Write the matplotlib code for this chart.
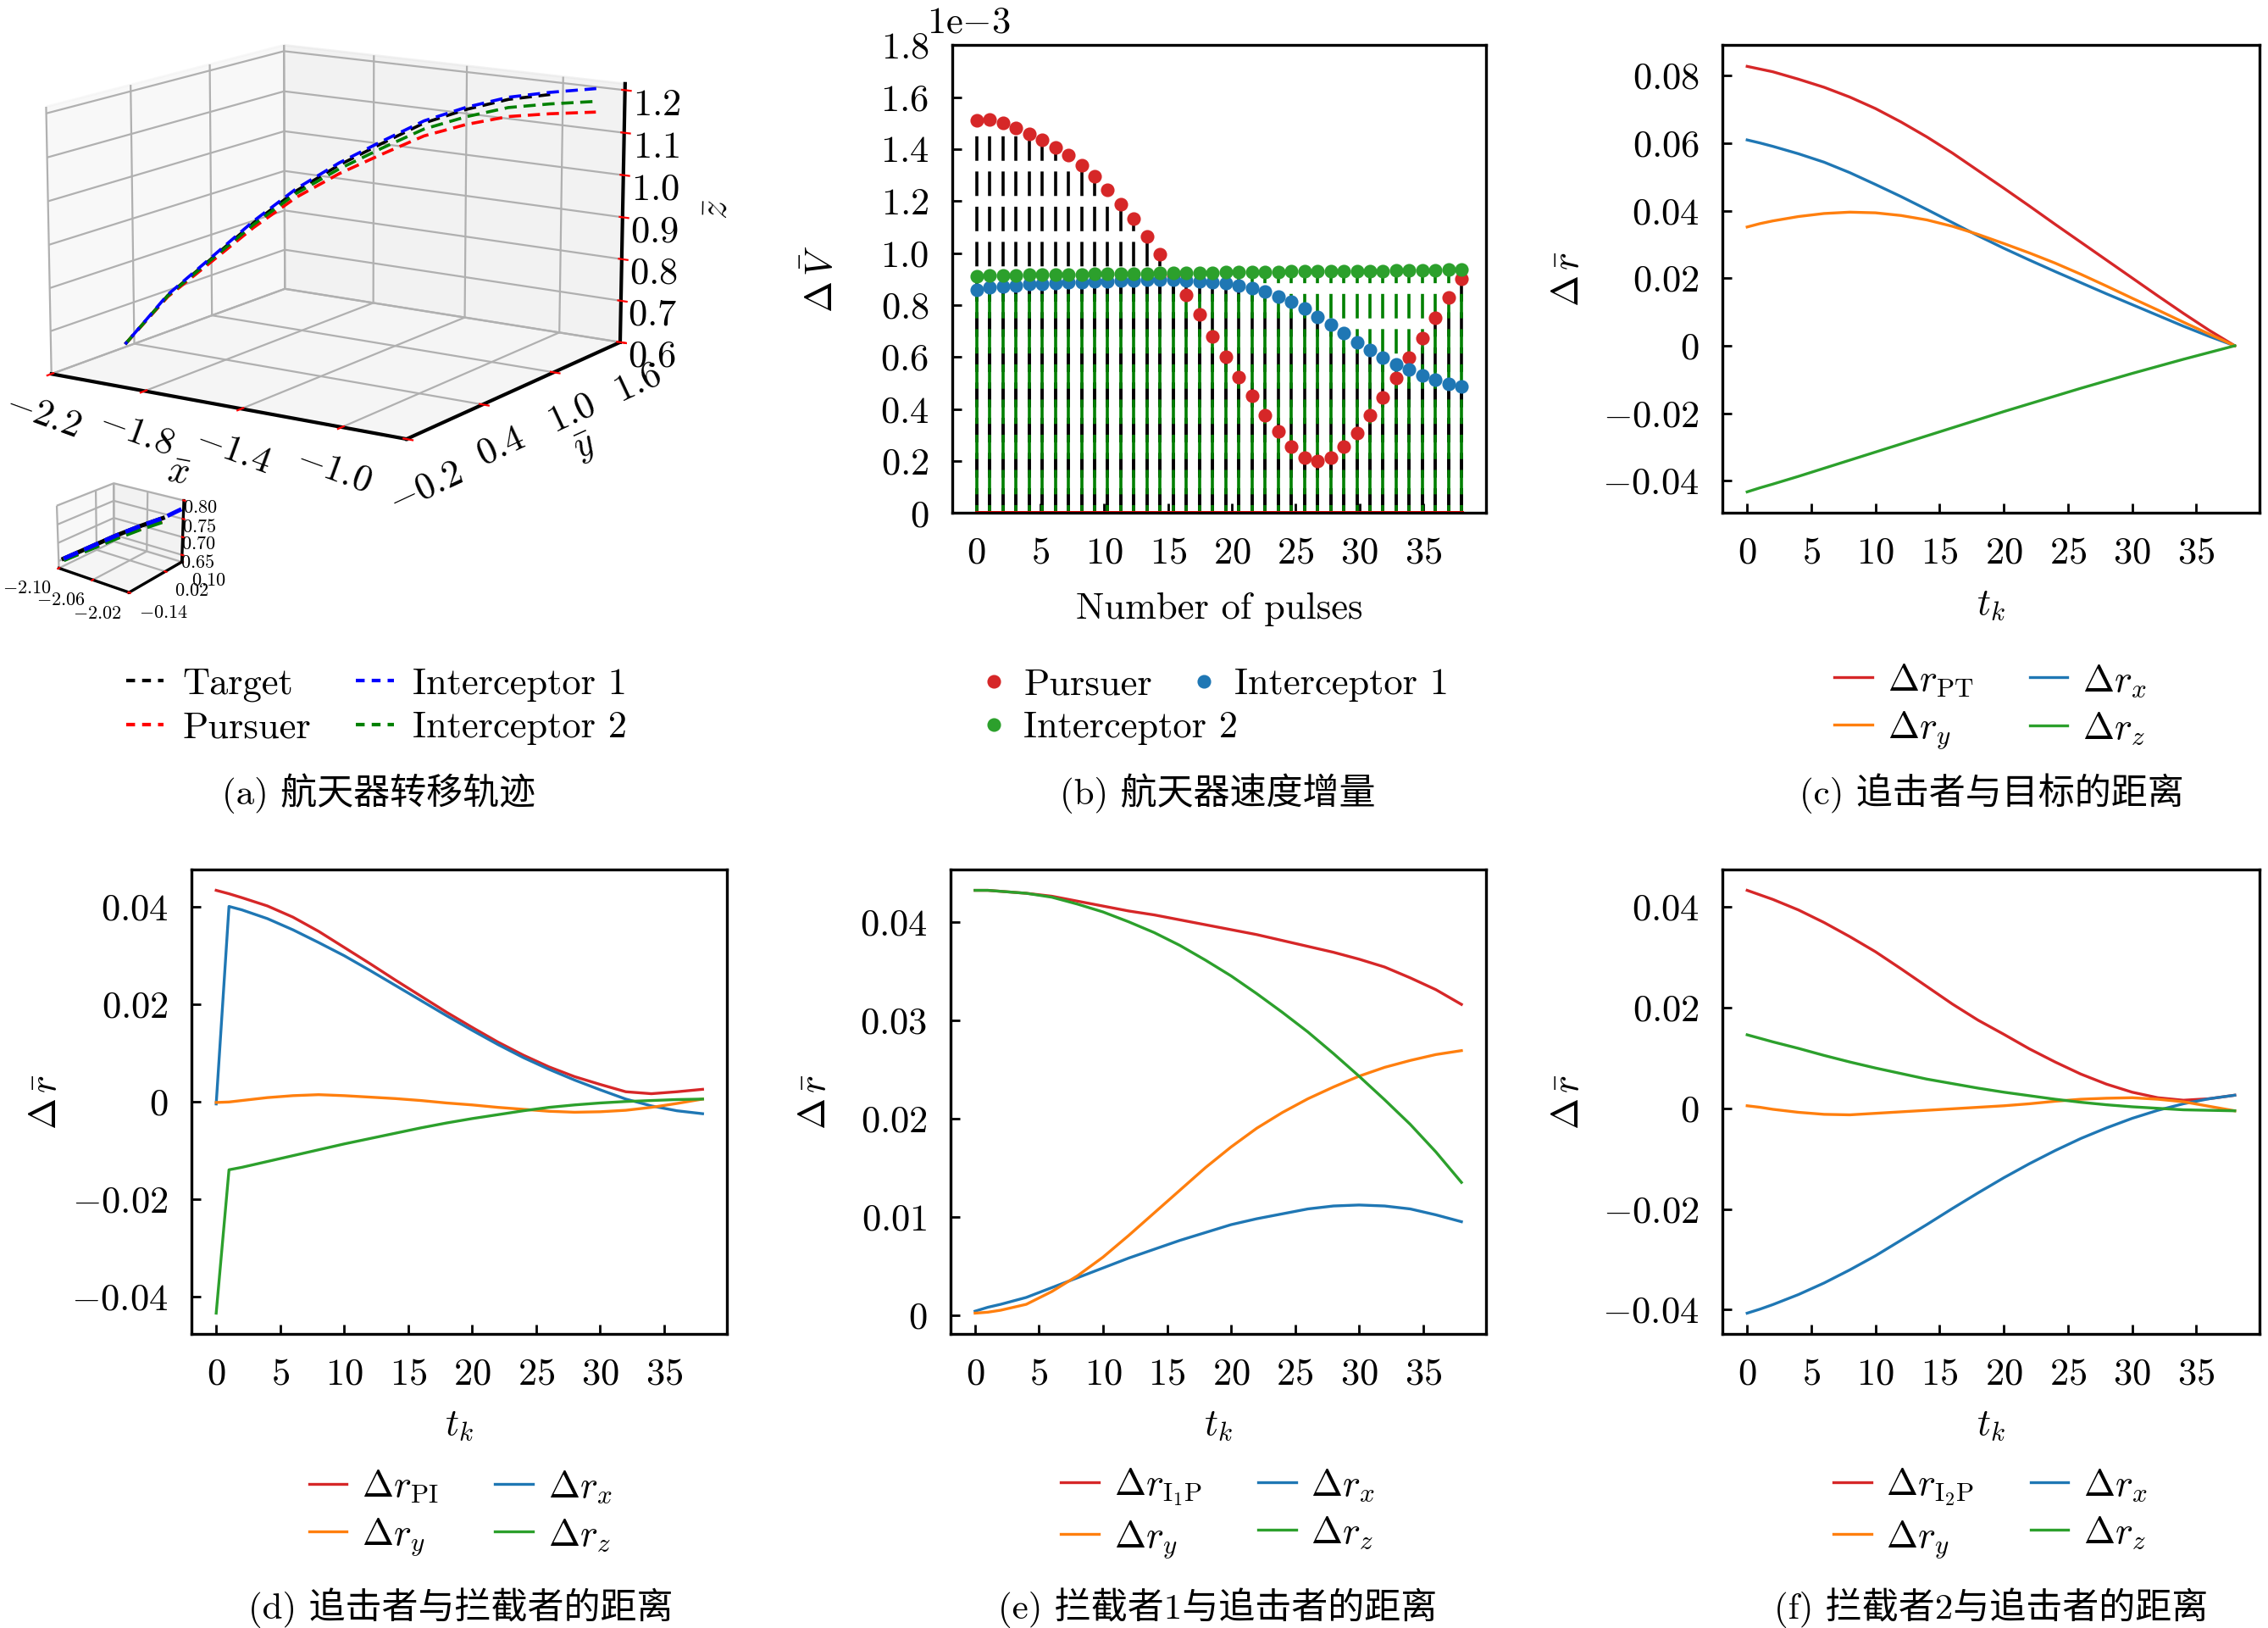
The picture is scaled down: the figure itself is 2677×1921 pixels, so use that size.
import numpy as np
import matplotlib
matplotlib.use("Agg")
import matplotlib.pyplot as plt
from matplotlib.lines import Line2D
from matplotlib.ticker import FuncFormatter

plt.rcParams["font.family"] = ["cmr10", "Noto Sans CJK SC", "DejaVu Sans"]
plt.rcParams["mathtext.fontset"] = "cm"
plt.rcParams["axes.formatter.use_mathtext"] = True

# ---------------- (a) transfer trajectories (x, y, z) ----------------
int1_x = [-2.000, -1.895, -1.789, -1.684, -1.579, -1.473, -1.368, -1.263, -1.158, -1.052, -0.947, -0.830]
int1_y = [0.000, 0.137, 0.274, 0.410, 0.547, 0.684, 0.821, 0.958, 1.094, 1.231, 1.368, 1.520]
int1_z = [0.665, 0.775, 0.855, 0.935, 1.005, 1.060, 1.105, 1.148, 1.175, 1.194, 1.201, 1.205]

target_x = [-2.000, -1.895, -1.789, -1.684, -1.579, -1.473, -1.368, -1.263, -1.158, -1.052, -0.947]
target_y = [0.000, 0.137, 0.274, 0.410, 0.547, 0.684, 0.821, 0.958, 1.094, 1.231, 1.368]
target_z = [0.665, 0.773, 0.852, 0.931, 1.000, 1.055, 1.100, 1.143, 1.170, 1.189, 1.196]

int2_x = int1_x
int2_y = int1_y
int2_z = [0.665, 0.772, 0.850, 0.927, 0.994, 1.046, 1.089, 1.129, 1.153, 1.170, 1.174, 1.175]

pursuer_x = int1_x
pursuer_y = int1_y
pursuer_z = [0.665, 0.770, 0.845, 0.920, 0.985, 1.035, 1.075, 1.113, 1.135, 1.149, 1.151, 1.150]

# zoomed start of the trajectories (inset)
zoom_target = ([-2.100, -2.085, -2.070, -2.055, -2.040], [-0.12, -0.06, 0.00, 0.05, 0.09], [0.650, 0.675, 0.700, 0.722, 0.742])
zoom_pursuer = ([-2.100, -2.085, -2.070, -2.055, -2.040], [-0.12, -0.06, 0.00, 0.05, 0.09], [0.648, 0.671, 0.694, 0.715, 0.734])
zoom_int1 = ([-2.100, -2.085, -2.070, -2.055, -2.040, -2.025], [-0.12, -0.06, 0.00, 0.05, 0.09, 0.12], [0.650, 0.675, 0.700, 0.722, 0.742, 0.770])
zoom_int2 = ([-2.100, -2.085, -2.070, -2.055, -2.040], [-0.12, -0.06, 0.00, 0.05, 0.09], [0.646, 0.669, 0.692, 0.713, 0.732])

# ---------------- (b) velocity increments (x 1e-3) ----------------
pulses = np.linspace(0, 38, 38)
dv_pursuer = [1.510, 1.515, 1.500, 1.481, 1.460, 1.436, 1.405, 1.376, 1.337, 1.294, 1.242, 1.187,
              1.132, 1.063, 0.995, 0.915, 0.840, 0.764, 0.681, 0.602, 0.523, 0.450, 0.375, 0.316,
              0.255, 0.215, 0.200, 0.215, 0.255, 0.309, 0.375, 0.446, 0.521, 0.597, 0.673, 0.752,
              0.828, 0.900]
dv_int1 = [0.860, 0.869, 0.873, 0.875, 0.881, 0.881, 0.884, 0.887, 0.889, 0.891, 0.892, 0.895,
           0.896, 0.897, 0.897, 0.897, 0.895, 0.892, 0.889, 0.884, 0.876, 0.865, 0.852, 0.834,
           0.812, 0.786, 0.756, 0.724, 0.691, 0.658, 0.627, 0.598, 0.572, 0.551, 0.531, 0.513,
           0.498, 0.486]
dv_int2 = [0.912, 0.913, 0.914, 0.915, 0.916, 0.917, 0.918, 0.918, 0.919, 0.920, 0.920, 0.921,
           0.922, 0.922, 0.923, 0.924, 0.924, 0.925, 0.925, 0.926, 0.927, 0.927, 0.928, 0.928,
           0.929, 0.929, 0.930, 0.930, 0.931, 0.931, 0.932, 0.932, 0.933, 0.933, 0.934, 0.935,
           0.936, 0.937]

# ---------------- (c)-(f) relative distances ----------------
t_k = [0, 1, 2, 4, 6, 8, 10, 12, 14, 16, 18, 20, 22, 24, 26, 28, 30, 32, 34, 36, 38]

c_pt = [0.0828, 0.0820, 0.0812, 0.0790, 0.0766, 0.0737, 0.0703, 0.0663, 0.0619, 0.0571, 0.0519,
        0.0467, 0.0414, 0.0360, 0.0307, 0.0254, 0.0201, 0.0148, 0.0096, 0.0046, 0.0]
c_x = [0.0610, 0.0601, 0.0591, 0.0569, 0.0544, 0.0513, 0.0478, 0.0442, 0.0404, 0.0365, 0.0326,
       0.0289, 0.0254, 0.0220, 0.0187, 0.0154, 0.0122, 0.0090, 0.0058, 0.0028, 0.0]
c_y = [0.0352, 0.0362, 0.0370, 0.0383, 0.0392, 0.0396, 0.0394, 0.0386, 0.0373, 0.0354, 0.0330,
       0.0303, 0.0275, 0.0245, 0.0212, 0.0177, 0.0141, 0.0106, 0.0070, 0.0035, 0.0]
c_z = [-0.0433, -0.0421, -0.0410, -0.0387, -0.0363, -0.0339, -0.0315, -0.0291, -0.0267, -0.0243,
       -0.0219, -0.0195, -0.0172, -0.0149, -0.0126, -0.0104, -0.0082, -0.0061, -0.0040, -0.0020, 0.0]

d_pi = [0.0433, 0.0426, 0.0418, 0.0401, 0.0378, 0.0349, 0.0316, 0.0283, 0.0249, 0.0216, 0.0183,
        0.0152, 0.0122, 0.0095, 0.0071, 0.0051, 0.0035, 0.0020, 0.0016, 0.0020, 0.0025]
d_x = [-0.0005, 0.0400, 0.0393, 0.0375, 0.0352, 0.0326, 0.0299, 0.0269, 0.0238, 0.0207, 0.0176,
       0.0146, 0.0117, 0.0090, 0.0066, 0.0044, 0.0024, 0.0005, -0.0009, -0.0019, -0.0025]
d_y = [-0.0002, -0.0001, 0.0002, 0.0008, 0.0012, 0.0014, 0.0012, 0.0009, 0.0006, 0.0002, -0.0003,
       -0.0007, -0.0012, -0.0016, -0.0020, -0.0022, -0.0021, -0.0018, -0.0012, -0.0004, 0.0005]
d_z = [-0.0434, -0.0140, -0.0135, -0.0123, -0.0111, -0.0099, -0.0087, -0.0076, -0.0065, -0.0054,
       -0.0044, -0.0035, -0.0027, -0.0019, -0.0012, -0.0007, -0.0003, 0.0000, 0.0002, 0.0004, 0.0005]

e_ip = [0.0432, 0.0432, 0.0431, 0.0429, 0.0426, 0.0421, 0.0416, 0.0411, 0.0407, 0.0402, 0.0397,
        0.0392, 0.0387, 0.0381, 0.0375, 0.0369, 0.0362, 0.0354, 0.0343, 0.0331, 0.0316]
e_x = [0.0004, 0.0008, 0.0011, 0.0018, 0.0028, 0.0038, 0.0048, 0.0058, 0.0067, 0.0076, 0.0084,
       0.0092, 0.0098, 0.0103, 0.0108, 0.0111, 0.0112, 0.0111, 0.0108, 0.0102, 0.0095]
e_y = [0.0002, 0.0003, 0.0005, 0.0011, 0.0024, 0.0040, 0.0059, 0.0081, 0.0104, 0.0127, 0.0150,
       0.0171, 0.0190, 0.0206, 0.0220, 0.0232, 0.0243, 0.0252, 0.0259, 0.0265, 0.0269]
e_z = [0.0432, 0.0432, 0.0431, 0.0429, 0.0425, 0.0418, 0.0410, 0.0400, 0.0389, 0.0376, 0.0361,
       0.0345, 0.0327, 0.0308, 0.0288, 0.0266, 0.0243, 0.0219, 0.0194, 0.0166, 0.0135]

f_ip = [0.0433, 0.0424, 0.0415, 0.0394, 0.0369, 0.0341, 0.0311, 0.0277, 0.0242, 0.0207, 0.0175,
        0.0147, 0.0118, 0.0092, 0.0068, 0.0048, 0.0032, 0.0021, 0.0016, 0.0019, 0.0026]
f_x = [-0.0407, -0.0399, -0.0390, -0.0370, -0.0347, -0.0321, -0.0293, -0.0262, -0.0231, -0.0199,
       -0.0168, -0.0138, -0.0110, -0.0084, -0.0060, -0.0039, -0.0020, -0.0004, 0.0009, 0.0019, 0.0026]
f_y = [0.0005, 0.0002, -0.0002, -0.0008, -0.0012, -0.0013, -0.0010, -0.0007, -0.0004, -0.0001, 0.0002,
       0.0005, 0.0009, 0.0014, 0.0018, 0.0020, 0.0021, 0.0018, 0.0013, 0.0004, -0.0005]
f_z = [0.0146, 0.0139, 0.0132, 0.0119, 0.0105, 0.0092, 0.0080, 0.0069, 0.0058, 0.0049, 0.0040,
       0.0032, 0.0025, 0.0018, 0.0012, 0.0007, 0.0003, 0.0000, -0.0003, -0.0004, -0.0005]

captions = ["(a) 航天器转移轨迹", "(b) 航天器速度增量", "(c) 追击者与目标的距离",
            "(d) 追击者与拦截者的距离", "(e) 拦截者1与追击者的距离", "(f) 拦截者2与追击者的距离"]

TICK_FS = 16
RED, BLUE, ORANGE, GREEN = "#d62728", "#1f77b4", "#ff7f0e", "#2ca02c"


def num_fmt(decimals):
    def f(v, pos):
        if abs(v) < 1e-12:
            return "$0$"
        return "$%.*f$" % (decimals, v)
    return FuncFormatter(f)


def style_2d(ax, ydec):
    for s in ax.spines.values():
        s.set_linewidth(1.2)
    ax.tick_params(direction="in", length=4, width=1, labelsize=TICK_FS, pad=10,
                   top=False, right=False)
    ax.yaxis.set_major_formatter(num_fmt(ydec))
    ax.xaxis.set_major_formatter(num_fmt(0))
    ax.set_xticks([0, 5, 10, 15, 20, 25, 30, 35])


fig = plt.figure(figsize=(13.385, 9.605), dpi=200)

# ---------------- (a) ----------------
ax_a = fig.add_axes([-0.0125, 0.6625, 0.318, 0.385], projection="3d")
ax_a.view_init(elev=13, azim=-57)
ax_a.set_box_aspect((4, 4, 2.6))
ax_a.plot(target_x, target_y, target_z, color="k", lw=1.3, ls=(0, (4, 2.2)))
ax_a.plot(pursuer_x, pursuer_y, pursuer_z, color="r", lw=1.3, ls=(0, (4, 2.2)))
ax_a.plot(int2_x, int2_y, int2_z, color="g", lw=1.3, ls=(0, (4, 2.2)))
ax_a.plot(int1_x, int1_y, int1_z, color="b", lw=1.3, ls=(3, (4, 2.2)))
ax_a.set_xlim(-2.2, -0.75)
ax_a.set_ylim(-0.2, 1.6)
ax_a.set_zlim(0.6, 1.215)
ax_a.set_xticks([-2.2, -1.8, -1.4, -1.0])
ax_a.set_yticks([-0.2, 0.4, 1.0, 1.6])
ax_a.set_zticks([0.6, 0.7, 0.8, 0.9, 1.0, 1.1, 1.2])
for axis in (ax_a.xaxis, ax_a.yaxis, ax_a.zaxis):
    axis.set_major_formatter(num_fmt(1))
    axis.line.set_color("k")
    axis.line.set_linewidth(1.5)
ax_a.zaxis.set_ticks_position("upper")
ax_a.zaxis.set_label_position("upper")
ax_a.tick_params(axis="both", labelsize=TICK_FS, color="red", width=1.5)
ax_a.tick_params(axis="x", labelrotation=-20, pad=-3)
ax_a.tick_params(axis="y", labelrotation=25, pad=-1)
ax_a.tick_params(axis="z", pad=0)
ax_a.set_xlabel(r"$\bar{x}$", fontsize=TICK_FS, labelpad=4)
ax_a.set_ylabel(r"$\bar{y}$", fontsize=TICK_FS, labelpad=4)
ax_a.set_zlabel(r"$\bar{z}$", fontsize=TICK_FS, labelpad=3)

ax_in = fig.add_axes([0.015, 0.628, 0.075, 0.085], projection="3d")
ax_in.patch.set_alpha(0)
ax_in.view_init(elev=22, azim=-52)
for (xs, ys, zs), c in zip([zoom_target, zoom_pursuer, zoom_int2, zoom_int1], ["k", "r", "g", "b"]):
    ax_in.plot(xs, ys, zs, "--" if c != "k" else "-", color=c, lw=1.8)
ax_in.set_xlim(-2.10, -2.02)
ax_in.set_ylim(-0.14, 0.10)
ax_in.set_zlim(0.63, 0.80)
ax_in.set_xticks([-2.10, -2.06, -2.02])
ax_in.set_yticks([-0.14, 0.02, 0.10])
ax_in.set_zticks([0.65, 0.70, 0.75, 0.80])
for axis in (ax_in.xaxis, ax_in.yaxis, ax_in.zaxis):
    axis.set_major_formatter(num_fmt(2))
    axis.line.set_color("k")
    axis.line.set_linewidth(1.2)
ax_in.zaxis.set_ticks_position("upper")
ax_in.tick_params(axis="both", labelsize=8, color="red", pad=-4)
for lbl in ax_in.xaxis.get_majorticklabels():
    lbl.set_horizontalalignment("right")
for lbl in ax_in.yaxis.get_majorticklabels():
    lbl.set_horizontalalignment("left")

handles_a = [Line2D([], [], ls=(0, (2.5, 2)), color="k"), Line2D([], [], ls=(0, (2.5, 2)), color="r"),
             Line2D([], [], ls=(0, (2.5, 2)), color="b"), Line2D([], [], ls=(0, (2.5, 2)), color="g")]
fig.legend(handles_a, ["Target", "Pursuer", "Interceptor 1", "Interceptor 2"],
           loc="center", bbox_to_anchor=(0.166, 0.566), ncol=2, frameon=False,
           fontsize=TICK_FS, handlelength=1.0, handletextpad=0.5, columnspacing=1.2,
           labelspacing=0.25)

# ---------------- (b) ----------------
ax_b = fig.add_axes([0.4199, 0.6848, 0.2353, 0.2875])
series_b = [(dv_pursuer, RED, "k", 0, 3.0), (dv_int1, BLUE, "k", 0, 3.1),
            (dv_int2, GREEN, "#008000", 5.5, 3.2)]
for vals, mc, sc, off, z in series_b:
    markers, stems, base = ax_b.stem(pulses, vals, linefmt="--", markerfmt="o", basefmt="r-")
    stems.set_color(sc)
    stems.set_linewidth(1.3)
    stems.set_linestyle((off, (8, 3.5)))
    stems.set_zorder(2)
    markers.set_color(mc)
    markers.set_markersize(4.8)
    markers.set_zorder(z)
    base.set_color("red")
    base.set_linewidth(1.8)
    base.set_zorder(2.5)
ax_b.set_ylim(0, 1.8)
ax_b.set_yticks([0, 0.2, 0.4, 0.6, 0.8, 1.0, 1.2, 1.4, 1.6, 1.8])
style_2d(ax_b, 1)
ax_b.text(0.03, 1.01, r"1e$-$3", transform=ax_b.transAxes, fontsize=TICK_FS, ha="center", va="bottom")
ax_b.set_xlabel("Number of pulses", fontsize=TICK_FS)
ax_b.set_ylabel(r"$\Delta\,\bar{V}$", fontsize=TICK_FS)
ax_b.xaxis.set_label_coords(0.5, -0.17)
ax_b.yaxis.set_label_coords(-0.21, 0.5)
handles_b = [Line2D([], [], ls="none", marker="o", ms=4.8, color=RED),
             Line2D([], [], ls="none", marker="o", ms=4.8, color=GREEN),
             Line2D([], [], ls="none", marker="o", ms=4.8, color=BLUE)]
fig.legend(handles_b, ["Pursuer", "Interceptor 2", "Interceptor 1"], loc="center",
           bbox_to_anchor=(0.535, 0.566), ncol=2, frameon=False, fontsize=TICK_FS,
           handlelength=0.8, handletextpad=0.4, columnspacing=-1.3, labelspacing=0.25)

# ---------------- (c)-(f) ----------------
line_panels = [
    ([0.7596, 0.6848, 0.2365, 0.2875], (c_pt, c_x, c_y, c_z), r"\mathrm{PT}",
     [-0.04, -0.02, 0, 0.02, 0.04, 0.06, 0.08], 0.8776, 0.566, -0.255),
    ([0.0846, 0.1804, 0.2359, 0.2857], (d_pi, d_x, d_y, d_z), r"\mathrm{PI}",
     [-0.04, -0.02, 0, 0.02, 0.04], 0.203, 0.0705, -0.24),
    ([0.4192, 0.1804, 0.2359, 0.2857], (e_ip, e_x, e_y, e_z), r"\mathrm{I}_1\mathrm{P}",
     [0, 0.01, 0.02, 0.03, 0.04], 0.537, 0.0705, -0.22),
    ([0.7596, 0.1804, 0.2365, 0.2857], (f_ip, f_x, f_y, f_z), r"\mathrm{I}_2\mathrm{P}",
     [-0.04, -0.02, 0, 0.02, 0.04], 0.8776, 0.0705, -0.255),
]
for rect, (r_tot, r_x, r_y, r_z), sub, yt, lx, ly, ylab_x in line_panels:
    ax = fig.add_axes(rect)
    h_tot, = ax.plot(t_k, r_tot, color=RED, lw=1.2)
    h_x, = ax.plot(t_k, r_x, color=BLUE, lw=1.2)
    h_y, = ax.plot(t_k, r_y, color=ORANGE, lw=1.2)
    h_z, = ax.plot(t_k, r_z, color=GREEN, lw=1.2)
    style_2d(ax, 2)
    ax.set_yticks(yt)
    ax.set_xlabel(r"$t_k$", fontsize=TICK_FS)
    ax.set_ylabel(r"$\Delta\,\bar{r}$", fontsize=TICK_FS)
    ax.xaxis.set_label_coords(0.5, -0.16)
    ax.yaxis.set_label_coords(ylab_x, 0.5)
    fig.legend([h_tot, h_y, h_x, h_z],
               [r"$\Delta r_{%s}$" % sub, r"$\Delta r_y$", r"$\Delta r_x$", r"$\Delta r_z$"],
               loc="center", bbox_to_anchor=(lx, ly), ncol=2, frameon=False, fontsize=TICK_FS,
               handlelength=1.0, handletextpad=0.4, columnspacing=1.5, labelspacing=0.3)

# ---------------- captions ----------------
cap_pos = [(0.167, 0.5125), (0.537, 0.5125), (0.878, 0.5125),
           (0.203, 0.0125), (0.537, 0.0125), (0.878, 0.0125)]
for text, (cx, cy) in zip(captions, cap_pos):
    fig.text(cx, cy, text, ha="center", va="center", fontsize=15.5)

fig.savefig("out.png", dpi=200)
